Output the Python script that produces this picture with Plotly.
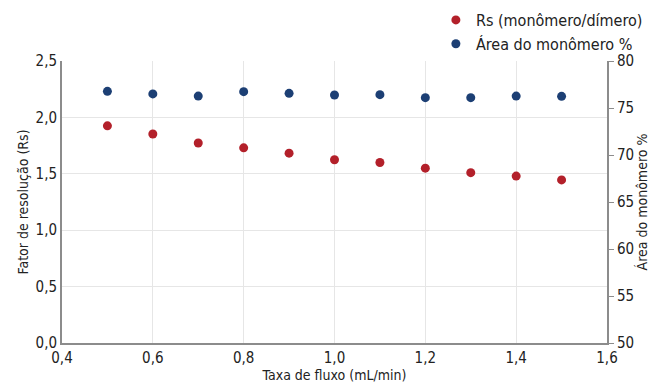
import plotly.graph_objects as go

flow = [0.5, 0.6, 0.7, 0.8, 0.9, 1.0, 1.1, 1.2, 1.3, 1.4, 1.5]
rs = [1.925, 1.853, 1.773, 1.73, 1.683, 1.625, 1.60, 1.55, 1.51, 1.48, 1.446]
area = [76.77, 76.5, 76.27, 76.74, 76.56, 76.38, 76.42, 76.1, 76.1, 76.27, 76.24]

FONT = "DejaVu Sans Condensed, Roboto, sans-serif"
RED = "#b3202a"
BLUE = "#1c3f74"
AX = "#8c8c8c"

fig = go.Figure()
fig.add_trace(go.Scatter(x=flow, y=rs, mode="markers", name="Rs (monômero/dímero)",
                         marker=dict(color=RED, size=9)))
fig.add_trace(go.Scatter(x=flow, y=area, mode="markers", name="Área do monômero %",
                         marker=dict(color=BLUE, size=9), yaxis="y2"))

fig.update_layout(
    width=648, height=377,
    margin=dict(l=54, r=49, t=53, b=42, autoexpand=False),
    paper_bgcolor="white", plot_bgcolor="white",
    separators=", ",
    font=dict(family=FONT, size=15, color="#222"),
    showlegend=True,
    legend=dict(x=1.075, xanchor="right", y=1.0, yanchor="bottom", font=dict(size=16),
                itemsizing="trace", tracegroupgap=0, bgcolor="rgba(0,0,0,0)",
                itemwidth=30),
    xaxis=dict(range=[0.4, 1.6], dtick=0.2, tickformat=".1f", showgrid=True, gridcolor="#e6e6e6",
               showline=True, linecolor=AX, linewidth=2, ticks="", zeroline=False, automargin=False,
               title=dict(text="Taxa de fluxo (mL/min)", standoff=0, font=dict(size=14))),
    yaxis=dict(range=[0, 2.5], dtick=0.5, tickformat=".1f", showgrid=True, gridcolor="#e6e6e6",
               showline=True, linecolor=AX, linewidth=2, ticks="", zeroline=False, automargin=False,
               title=dict(text="Fator de resolução (Rs)", standoff=4, font=dict(size=14))),
    yaxis2=dict(range=[50, 80], dtick=5, overlaying="y", side="right", showgrid=False,
                showline=True, linecolor=AX, linewidth=2, ticks="outside", ticklen=5, tickcolor=AX,
                zeroline=False, automargin=False,
                title=dict(text="Área do monômero %", standoff=0, font=dict(size=14))),
)

fig.write_html("out.html")
